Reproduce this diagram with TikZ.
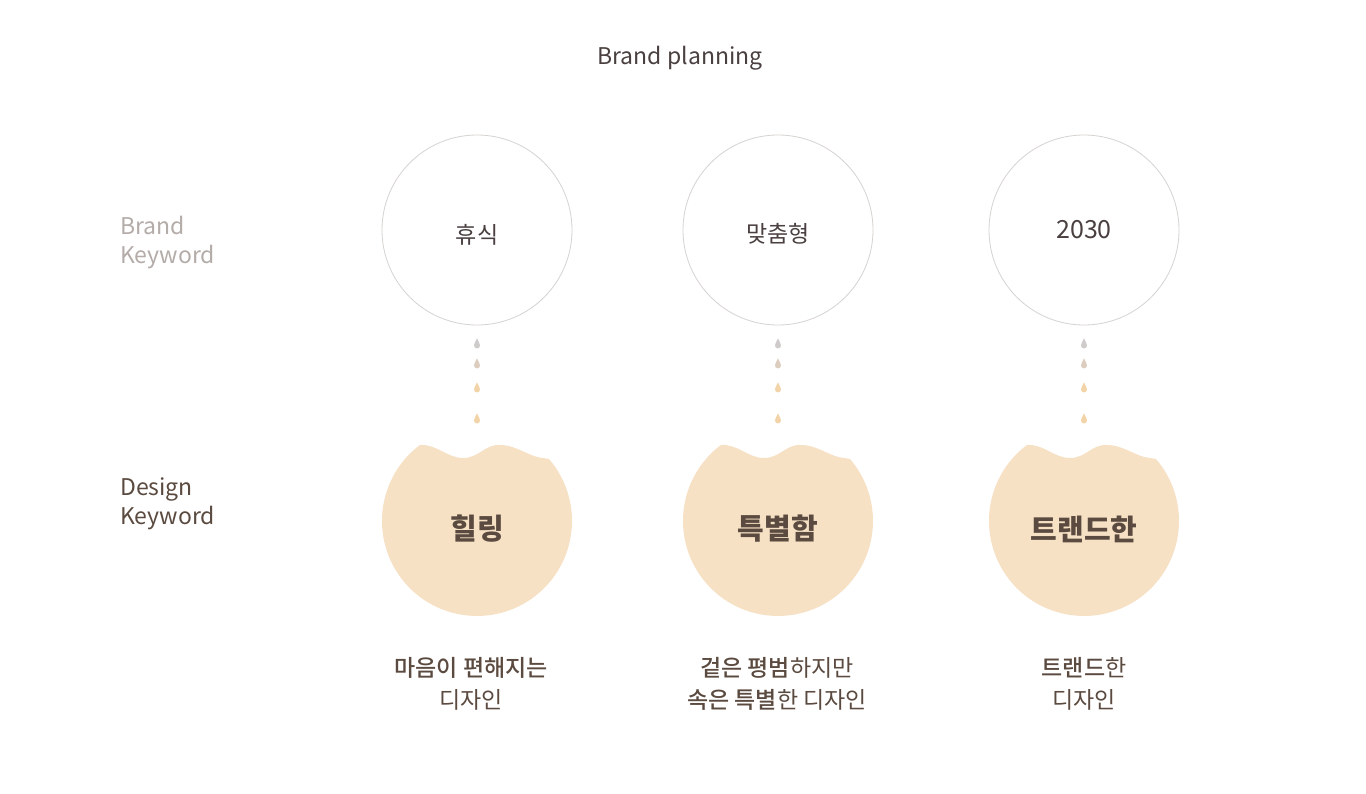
\documentclass[tikz,border=0pt]{standalone}
\usepackage{fontspec}
\setmainfont{Noto Sans CJK KR}
\newfontfamily\medfont{Noto Sans CJK KR Medium}
\newcommand{\md}[1]{{\medfont #1}}
\definecolor{ink}{HTML}{4A4040}
\definecolor{lightlab}{HTML}{B3ACA9}
\definecolor{brownlab}{HTML}{5A4A3F}
\definecolor{ring}{HTML}{D6D3D1}
\definecolor{peach}{HTML}{F7E1C5}
\definecolor{dropA}{HTML}{CFCBCA}
\definecolor{dropB}{HTML}{DCCDBE}
\definecolor{dropC}{HTML}{F3D3A8}
\definecolor{captxt}{HTML}{5B4A40}
\tikzset{
  kwcircle/.style={circle,draw=ring,line width=0.8pt,minimum size=190pt,inner sep=0pt},
  kwtext/.style={font=\fontsize{23}{26}\selectfont,text=ink},
  bigword/.style={font=\fontsize{29}{32}\selectfont\bfseries,text=brownlab},
  caption/.style={align=center,font=\fontsize{23}{32}\selectfont,text=captxt},
  sidelabel/.style={anchor=west,align=left,font=\fontsize{23}{29}\selectfont,inner sep=0pt},
  drop/.pic={\fill[#1] (0,-6) .. controls (1,-3) and (3,-1.5) .. (3,1) .. controls (3,2.8) and (1.7,4) .. (0,4) .. controls (-1.7,4) and (-3,2.8) .. (-3,1) .. controls (-3,-1.5) and (-1,-3) .. (0,-6) -- cycle;},
  bite/.pic={\fill[peach] (-57,-76) .. controls (-40,-77) and (-30,-63) .. (-14,-63) .. controls (2,-63) and (8,-77) .. (23,-76) .. controls (40,-76) and (52,-64) .. (66,-63) -- (72,-62) arc[start angle=-40.7,end angle=233.1,radius=95] -- cycle;}
}
\begin{document}
\begin{tikzpicture}[x=1pt,y=-1pt]
\useasboundingbox (0,0) rectangle (1366,793);
\fill[white] (0,0) rectangle (1366,793);
\node[font=\fontsize{23}{26}\selectfont,text=ink] (title) at (680,58) {Brand planning};
\node[sidelabel,text=lightlab] (bk) at (120,243) {Brand\\Keyword};
\node[sidelabel,text=brownlab] (dk) at (120,504) {Design\\Keyword};
% brand keyword circles
\node[kwcircle] (k1) at (477,230) {};
\node[kwcircle] (k2) at (778,230) {};
\node[kwcircle] (k3) at (1084,230) {};
\node[kwtext] (t1) at (477,235) {휴식};
\node[kwtext] (t2) at (778,234) {맞춤형};
\node[kwtext,font=\fontsize{25}{28}\selectfont] (t3) at (1084,230) {2030};
% design keyword shapes
\foreach \cx in {477,778,1084} {
  \pic at (\cx,521) {bite};
}
\node[bigword] (d1) at (477,529) {힐링};
\node[bigword] (d2) at (778,529) {특별함};
\node[bigword] (d3) at (1084,529) {트랜드한};
% drops as connectors
\foreach \i in {1,2,3} {
  \path (k\i.south) ++(0,19) pic {drop=dropA};
  \path (k\i.south) ++(0,39) pic {drop=dropB};
  \path (k\i.south) ++(0,63) pic {drop=dropC};
  \path (k\i.south) ++(0,94) pic {drop=dropC};
}
% captions
\node[caption] (c1) at (471,684) {\md{마음이 편해지는}\\디자인};
\node[caption] (c2) at (777,684) {\md{겉은 평범}하지만\\\md{속은 특별}한 디자인};
\node[caption] (c3) at (1084,684) {\md{트랜드}한\\디자인};
\end{tikzpicture}
\end{document}
